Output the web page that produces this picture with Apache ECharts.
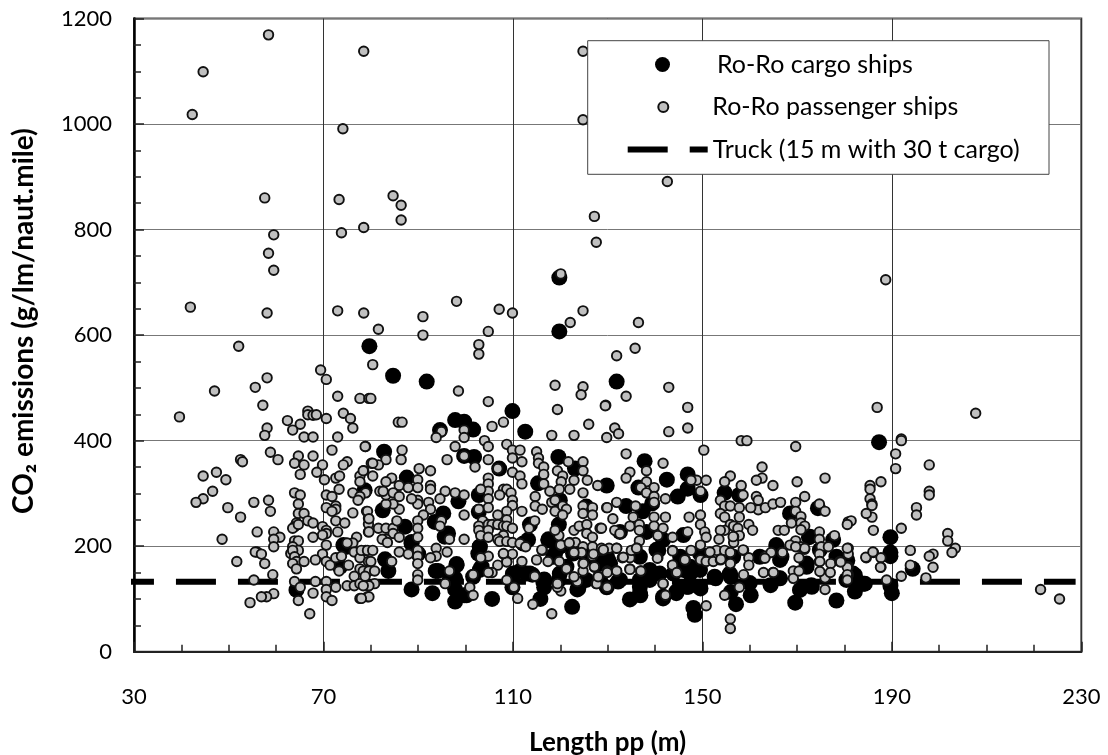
<!DOCTYPE html>
<html>
<head>
<meta charset="utf-8">
<title>CO2 emissions vs length</title>
<style>html,body{margin:0;padding:0;background:#fff}#chart{width:1108px;height:755px}</style>
<script src="https://cdn.jsdelivr.net/npm/echarts@6/dist/echarts.min.js"></script>
</head>
<body>
<div id="chart"></div>
<script>
var xTicks = [30, 70, 110, 150, 190, 230];
var truckLine = [[28.3, 132.6], [228.8, 132.6]];

var cargoShips = [
  [119.8,709],[119.8,607],[79.7,579],[84.7,523],[91.8,512],[109.9,456],[112.6,417],[97.8,439],[99.7,436],[101.6,421],[94.6,420],
  [82.8,379],[99.7,371],[101.8,369],[107.1,347],[119.6,369],[123.1,347],[87.6,330],[115.3,319],[129.8,315],[102.8,297],[98.5,285],
  [119.9,287],[102.8,265],[82.5,268],[95.3,262],[93.5,246],[113.6,241],[87.2,237],[119.7,241],[125.5,275],[96.3,224],[88.6,208],
  [103,199],[113.2,212],[117.5,213],[83,175],[83.7,153],[93.7,153],[98.1,166],[102.7,186],[111.5,153],[114.1,146],[118.9,186],
  [122.7,186],[119.9,148],[125.5,180],[129.8,180],[90,186],[103.4,161],[88.6,118],[93,111],[97.8,95],[97.8,118],[99.7,107],
  [105.6,100],[109.9,122],[116.6,137],[116.6,122],[115.8,100],[122.5,85],[123.6,118],[129.8,122],[97.8,139],[101.6,142],[110,142],
  [119.7,136],[125.5,136],[112.9,148],[75,199],[73.5,161],[78.7,306],[64.3,117],
  [131.9,512],[137.8,361],[142.5,326],[146.9,336],[146.9,309],[144.8,294],[149.6,297],[136.5,311],[154.7,301],[157.8,297],
  [133.9,276],[139.4,281],[137.4,266],[168.5,262],[174.4,272],[146,221],[172.5,217],[177.6,212],[165.6,202],[132.6,227],[141.7,212],
  [138.2,227],[130.1,174],[136.8,180],[140.7,192],[138.9,155],[145.3,180],[149.5,186],[147.4,161],[156.5,180],[162.1,180],[172,167],
  [166.7,180],[132.2,133],[136.8,123],[138.9,136],[134.7,99],[136.9,107],[141.7,101],[144.5,111],[147,123],[149.6,120],[148.1,83],
  [148.4,70],[152.8,139],[156,142],[157.1,90],[156,113],[160.2,107],[164.4,126],[166.4,139],[169.6,93],[170.6,117],[173.1,123],
  [178.3,97],[180.4,136],[187.3,397],[189.7,217],[189.7,188],[189.7,181],[194.4,157],[189.7,125],[190,111],[182.2,145],[182.2,114],
  [184.3,129],[180.6,173],[182.5,129],
  [116.4,133],[118.5,180],[117.5,211],[123.8,120],[128.4,136],[130.5,167],[136.8,111],[138.9,148],[140.3,193],[141.7,104],[144.5,114],
  [146.7,123],[132.6,136],[136.8,136],[110,148],[113.6,148],[141,148],[146,155],[112.2,205],[121.3,161],[128.4,167],[143.9,148],[119.9,199],
  [152.6,142],[155.8,148],[166,139],[173,126],[184,129],[181.8,148],[165.7,199],[172.7,218],[174.8,193],[172,161],[149.5,123],[147.4,148],
  [166.4,174],[178.3,180],[149.5,155],[160,130],[94.2,153],[98.1,164],[97.4,136],[100.2,107],[103,155],[88.6,205],[74.2,202],[103,199],
  [95.6,218],[96.7,139]
];

var passengerShips = [
  [58.4,1169],[44.6,1099],[42.3,1018],[78.5,1138],[124.8,1138],[124.8,1008],[74.1,991],[57.6,860],[73.3,857],[84.7,864],[86.4,846],
  [86.4,818],[127.2,825],[127.6,776],[59.5,790],[78.5,804],[73.8,794],[58.4,755],[59.5,723],[120.1,716],[41.9,653],[58.1,642],[73,646],
  [78.5,642],[91,635],[98.1,664],[107.1,649],[109.9,642],[124.8,646],[122.1,624],[81.6,611],[91,600],[104.8,607],[142.6,891],[188.7,705],
  [136.5,624],
  [52.1,579],[69.4,534],[70.6,516],[58.1,519],[55.6,501],[47,494],[73,484],[77.7,480],[79.6,480],[39.6,445],[57.2,467],[66.7,456],[66.7,449],
  [67.8,448],[68.5,449],[70.6,442],[74.2,452],[75.7,442],[76.2,424],[62.4,438],[65.1,431],[63.5,420],[58.1,424],[57.6,410],[65.9,407],
  [67.8,407],[73,407],[71.8,382],[78.9,389],[58.8,378],[60.4,364],[52.5,364],[52.9,360],[64.7,371],[63.9,357],[65.9,354],[67.8,371],
  [69.8,354],[75,360],[74.2,354],[80.1,357],[65.1,336],[68.6,340],[44.6,333],[47.4,340],[49.4,326],[70.2,326],[72.6,329],[73.4,333],
  [78.5,343],[77.7,333],[77.7,322],[73.3,308],[46.6,304],[44.6,290],[43.1,283],[76.2,301],[78.9,301],[77.7,294],[77.3,287],[63.9,301],
  [65.1,297],[70.6,297],[71.8,294],[64.7,280],[58.4,287],[55.3,283],[49.8,273],[58.8,266],[70.6,273],[72.6,276],[72.6,270],[71.8,266],
  [76.2,263],[79.1,266],[52.5,255],[64.7,262],[65.9,262],[66.7,248],[67.8,244],[72.6,248],[74.5,244],[79.5,253],[79.5,242],[79.5,227],
  [64.3,244],[63.9,237],[63.5,234],[64.7,241],[69.8,237],[70.6,230],[70.6,224],[69.8,221],[56,227],[59.5,227],[60.8,217],[59.5,213],
  [59.5,199],[48.6,213],[67.8,217],[73,227],[77,217],[63.9,210],[64.7,210],[63.5,199],[64.7,192],[63.1,186],[63.5,192],[70.6,202],
  [69.8,185],[76.2,206],[75,206],[56,189],[55.6,189],[56.9,185],[51.7,171],[57.6,167],[63.9,180],[64.3,171],[65.9,171],[63.5,167],
  [64.3,157],[68.3,174],[70.6,171],[71.4,164],[72.6,178],[73.8,181],[75.3,164],[73.3,153],[76.5,189],[77.7,178],[78.9,192],[79.5,171],
  [77.7,157],[78.9,150],[76.5,143],[59.3,146],[55.3,136],[63.9,133],[68.3,133],[70.6,133],[65.1,122],[70.6,118],[72.6,122],[75,125],
  [76.5,125],[77.7,129],[79.5,125],[59.5,110],[58,104],[56.9,104],[54.5,93],[64.7,97],[67.8,111],[70.6,104],[71.8,97],[77.7,101],
  [79.3,104],[67.1,72],
  [102.8,582],[102.8,564],[80.4,544],[118.9,505],[124.8,502],[124.4,487],[119.4,459],[98.5,494],[104.8,474],[80,480],[129.6,467],
  [85.8,435],[86.6,435],[105.6,427],[108,435],[126,431],[118.2,410],[122.9,410],[129.8,406],[94.9,417],[93.8,406],[99.7,420],[99.7,406],
  [78.8,389],[86.6,382],[86.4,364],[83.2,364],[81.6,354],[80.4,357],[97.8,389],[104,400],[104.8,389],[108.7,393],[109.9,382],[111.5,382],
  [109.9,367],[111.9,360],[115,379],[115.4,367],[115.4,357],[116.5,350],[116.5,336],[116.5,318],[99.7,371],[96.1,364],[102,350],[104.8,364],
  [106.8,347],[90.2,347],[92.6,343],[78.4,343],[80.4,333],[84.4,329],[83.2,322],[89.9,326],[89.9,311],[86,315],[87.9,311],[92.6,315],
  [92.6,308],[104.8,329],[104.8,318],[104.8,304],[104.8,290],[104.8,273],[103.2,308],[109.9,340],[111.5,333],[111.9,318],[108,308],
  [108.7,308],[107.2,297],[109.6,301],[109.9,287],[109.9,277],[111.9,266],[119.4,343],[120.5,333],[121.7,360],[124.8,360],[124.8,343],
  [122.9,325],[125.7,325],[124.8,301],[127.9,315],[122,308],[120.2,322],[119.8,308],[117.8,304],[114.7,294],[114.7,276],[116.2,270],
  [118.2,283],[118.9,287],[118.9,266],[120.5,276],[121.3,270],[120.5,259],[124.8,276],[124.8,262],[126.8,273],[126.8,259],[129.8,273],
  [95.7,304],[97.8,301],[99.7,297],[94.6,290],[92.2,283],[92.6,270],[89.9,287],[89.9,280],[91.1,259],[89.9,248],[89.9,234],[89.9,217],
  [89.9,192],[89.9,181],[89.9,167],[89.9,146],[89.9,136],[99.7,259],[94.9,248],[94.6,238],[96.6,213],[99.7,213],[102.8,270],[103.6,248],
  [102.8,238],[104.8,241],[105.6,241],[102.8,230],[104.8,230],[103.2,220],[104.8,217],[106.8,259],[108.7,266],[108.7,250],[106.8,241],
  [108,238],[108.7,238],[109.9,234],[108,220],[106.8,213],[107.2,209],[108.7,209],[109.9,207],[111.5,205],[112.7,199],[108,185],[109.9,185],
  [108.7,171],[111.9,171],[106.8,164],[104.8,181],[103.2,178],[79.3,266],[79.6,252],[79.6,227],[81.6,234],[83.2,234],[84.7,234],[86,270],
  [84.7,280],[83.2,280],[83.2,297],[84.7,301],[86,294],[81.9,304],[82.6,304],[88.6,290],[85.5,248],[84.7,224],[86,217],[83.2,213],[82.4,213],
  [83.5,207],[78,192],[79.3,192],[80.4,192],[80,171],[78.4,153],[79.6,153],[80.8,153],[78.8,143],[80.8,129],[79.6,125],[78.4,125],[79.6,104],
  [78,101],[86,189],[87.9,185],[84.4,171],[93.8,196],[93.8,181],[92.6,178],[96.1,189],[96.6,153],[95.7,129],[101.6,146],[100.9,122],[101.6,107],
  [105.6,150],[104.8,150],[108.7,136],[110.2,122],[111,101],[114.2,90],[118.2,72],[114.6,143],[116.2,192],[115,174],[117.4,171],[119.8,171],
  [121.3,157],[120.1,202],[119.7,220],[118.9,230],[122.9,230],[124,238],[125.6,241],[125.6,224],[126.8,217],[128.4,234],[122,207],[123.2,207],
  [124.8,199],[126.8,199],[128.7,192],[124.8,167],[126.8,181],[124.8,153],[127.2,160],[123.6,133],[128,143],[127.6,129],[129.9,122],[129.9,153],
  [120.1,115],[119.4,122],[113.4,234],[114.6,248],
  [135.8,575],[131.9,561],[133.9,484],[142.9,501],[129.5,466],[146.9,463],[146.9,424],[142.9,417],[131.5,424],[132.3,413],[133.9,375],[141.7,357],
  [138.2,343],[134.7,340],[133.9,329],[138.2,322],[137,311],[139.8,311],[138.2,301],[139.8,294],[139.8,283],[142.2,290],[150.3,382],[148.8,325],
  [150.8,325],[149.6,304],[147.6,325],[158.2,400],[159.4,400],[169.7,389],[162.6,350],[162.6,329],[161.4,325],[155.9,333],[154.7,322],[158.2,315],
  [158.6,297],[164.9,315],[170,322],[175.9,329],[171.6,294],[161.4,294],[161.8,287],[161.8,269],[160.2,273],[163.3,273],[164.9,280],[166.5,283],
  [169.7,283],[169.7,266],[170.8,256],[170.8,244],[171.6,238],[170.8,231],[168.8,244],[174.7,280],[175.9,266],[153.8,287],[154.7,276],[155.9,276],
  [157.8,273],[157.8,255],[153.8,262],[154.7,255],[155.9,241],[156.6,238],[157.5,234],[159.8,241],[160.6,230],[157.8,220],[156.6,218],[154.7,230],
  [153.8,230],[153.5,213],[156.6,207],[166,230],[167.3,230],[169.7,210],[168.5,202],[170.8,199],[171.6,194],[174.7,227],[174.7,213],[175.1,199],
  [177.9,220],[176.6,199],[174.7,185],[174.7,171],[177.1,167],[179,171],[180.8,196],[180.8,185],[180.8,161],[180.8,146],[180.8,246],[147.2,255],
  [149.6,259],[149.6,241],[150.5,227],[150.8,217],[149.6,202],[146.9,227],[147.6,192],[149.6,174],[150.8,171],[152.3,171],[153.8,174],[155.9,167],
  [153,192],[154.7,192],[155.9,188],[158.7,192],[159.8,178],[159.8,164],[158.7,146],[162.9,150],[164.9,150],[163.3,181],[164.5,188],[166.8,188],
  [169.2,153],[169.2,139],[170.4,153],[170.4,178],[171.6,196],[142.2,255],[139.8,255],[139.8,238],[141.7,234],[140.6,220],[143.7,217],[135.4,255],
  [131.1,252],[135.9,276],[131.9,283],[129.9,273],[134.7,238],[136.7,241],[136.7,230],[136.7,210],[131.5,230],[132.6,224],[128.7,234],[143.7,192],
  [143.7,164],[140.6,178],[144.5,150],[146.4,174],[137,153],[134.7,157],[134.7,178],[133.1,178],[136.2,196],[135,192],[131.9,196],[130.3,196],
  [128.7,196],[131.9,153],[129.9,150],[129.9,122],[141.7,129],[142.2,107],[150.8,87],[154.7,107],[155.9,62],[155.9,44],[157.8,122],[175.9,118],[175.9,140],
  [186.9,463],[207.7,452],[192,403],[192,400],[190.8,375],[190.8,347],[197.9,354],[197.9,304],[197.9,297],[187.7,322],[185.4,315],[185.4,308],
  [185.4,290],[185.8,280],[185.8,277],[185.8,255],[184.6,262],[181.4,248],[180.6,241],[186.1,230],[192,234],[195.2,273],[195.2,259],[201.8,224],
  [201.8,210],[203.4,196],[202.7,188],[193.9,192],[198.7,185],[197.9,181],[198.7,160],[186.1,188],[184.6,178],[187.7,178],[187.7,160],[180.6,196],
  [180.6,160],[180.6,146],[180.6,136],[188.9,136],[192,143],[193.9,164],[197.2,140],[221.4,118],[225.4,100],[179.2,170],
  [119.4,129],[127.7,129],[128,142],[127.2,161],[131.9,153],[134.7,156],[137,153],[141.7,129],[140.5,177],[143.7,164],[144.6,150],[146.3,174],
  [143.7,191],[122.9,142],[124.9,167],[133.3,179],[136.1,196],[131.9,196],[129.1,193],[127,185],[124.5,188],[122.9,188],[121.9,206],[116.1,193],
  [163.2,177],[166.9,188],[169.7,199],[174.8,171],[174.8,152],[177,150],[184.5,179],[186,189],[187.6,160],[156.5,218],[153.9,175],[151.6,189],
  [108.7,170],[108,186],[158.6,193],[165,150]
];

var fontName = 'Lato';
var chart = echarts.init(document.getElementById('chart'), null, {renderer: 'canvas'});

chart.setOption({
  animation: false,
  backgroundColor: '#fff',
  textStyle: {fontFamily: fontName, color: '#000'},
  grid: {left: 134, right: 26.7, top: 18.5, bottom: 103.3, outerBoundsMode: 'none', show: true, borderColor: '#444', borderWidth: 2, backgroundColor: '#fff'},
  xAxis: [
    {
      type: 'value', min: 30, max: 230,
      name: 'Length pp (m)', nameLocation: 'middle', nameGap: 78,
      nameTextStyle: {fontFamily: fontName, fontWeight: 'bold', fontSize: 26, color: '#000'},
      axisLine: {show: true, lineStyle: {color: '#222', width: 2}},
      axisTick: {inside: true, length: 10, lineStyle: {color: '#222', width: 1.5}, customValues: xTicks},
      axisLabel: {margin: 34, fontSize: 22, color: '#000', fontFamily: fontName, customValues: xTicks},
      splitLine: {show: true, lineStyle: {color: '#333', width: 1}}
    },
    {
      // minor ticks only
      type: 'value', min: 30, max: 230, interval: 10, position: 'bottom',
      axisLine: {show: false},
      axisTick: {inside: true, length: 7, lineStyle: {color: '#222', width: 1.5}},
      axisLabel: {show: false},
      splitLine: {show: false}
    }
  ],
  yAxis: {
    type: 'value', min: 0, max: 1200, interval: 200,
    name: 'CO₂ emissions (g/lm/naut.mile)', nameLocation: 'middle', nameGap: 96,
    nameTextStyle: {fontFamily: fontName, fontWeight: 'bold', fontSize: 28, color: '#000', padding: [0, 0, 0, 28]},
    axisLine: {show: true, lineStyle: {color: '#000', width: 2.5}},
    axisTick: {inside: true, length: 10, lineStyle: {color: '#222', width: 1.5}},
    minorTick: {show: true, splitNumber: 4, length: 7, lineStyle: {color: '#222', width: 1.5}},
    axisLabel: {margin: 22, fontSize: 22, color: '#000', fontFamily: fontName, formatter: function (v) { return String(v); }},
    splitLine: {show: true, lineStyle: {color: '#777', width: 1}}
  },
  legend: [
    {
      left: 655, top: 52, padding: 0, itemWidth: 15, itemHeight: 15, data: ['Ro-Ro cargo ships'],
      textStyle: {fontSize: 25, fontFamily: fontName, color: '#000', padding: [0, 0, 0, 42]}
    },
    {
      left: 657.3, top: 94.5, padding: 0, itemWidth: 10, itemHeight: 10, data: ['Ro-Ro passenger ships'],
      textStyle: {fontSize: 25, fontFamily: fontName, color: '#000', padding: [0, 0, 0, 39]}
    },
    {
      left: 624.7, top: 137, padding: 0, itemWidth: 80, itemHeight: 22, data: ['Truck (15 m with 30 t cargo)'],
      lineStyle: {width: 6, type: [40, 22], dashOffset: 0, color: '#000'},
      itemStyle: {opacity: 0},
      textStyle: {fontSize: 25, fontFamily: fontName, color: '#000', padding: [16, 0, 0, 0]}
    }
  ],
  graphic: [{
    type: 'rect', z: 3,
    shape: {x: 587.7, y: 40.7, width: 461.3, height: 133.6},
    style: {fill: '#fff', stroke: '#444', lineWidth: 1}
  }],
  series: [
    {
      name: 'Truck (15 m with 30 t cargo)', type: 'line', data: truckLine, symbol: 'none', clip: false, z: 2,
      lineStyle: {color: '#000', width: 6, type: [40, 22], dashOffset: 12}
    },
    {
      name: 'Ro-Ro cargo ships', type: 'scatter', data: cargoShips, symbol: 'circle', symbolSize: 16, z: 2, large: false, progressive: 0,
      itemStyle: {color: '#000', opacity: 1}
    },
    {
      name: 'Ro-Ro passenger ships', type: 'scatter', data: passengerShips, symbol: 'circle', symbolSize: 9.5, z: 2, large: false, progressive: 0,
      itemStyle: {color: '#c0c0c0', borderColor: '#111', borderWidth: 1.9, opacity: 1}
    }
  ]
});
</script>
</body>
</html>
